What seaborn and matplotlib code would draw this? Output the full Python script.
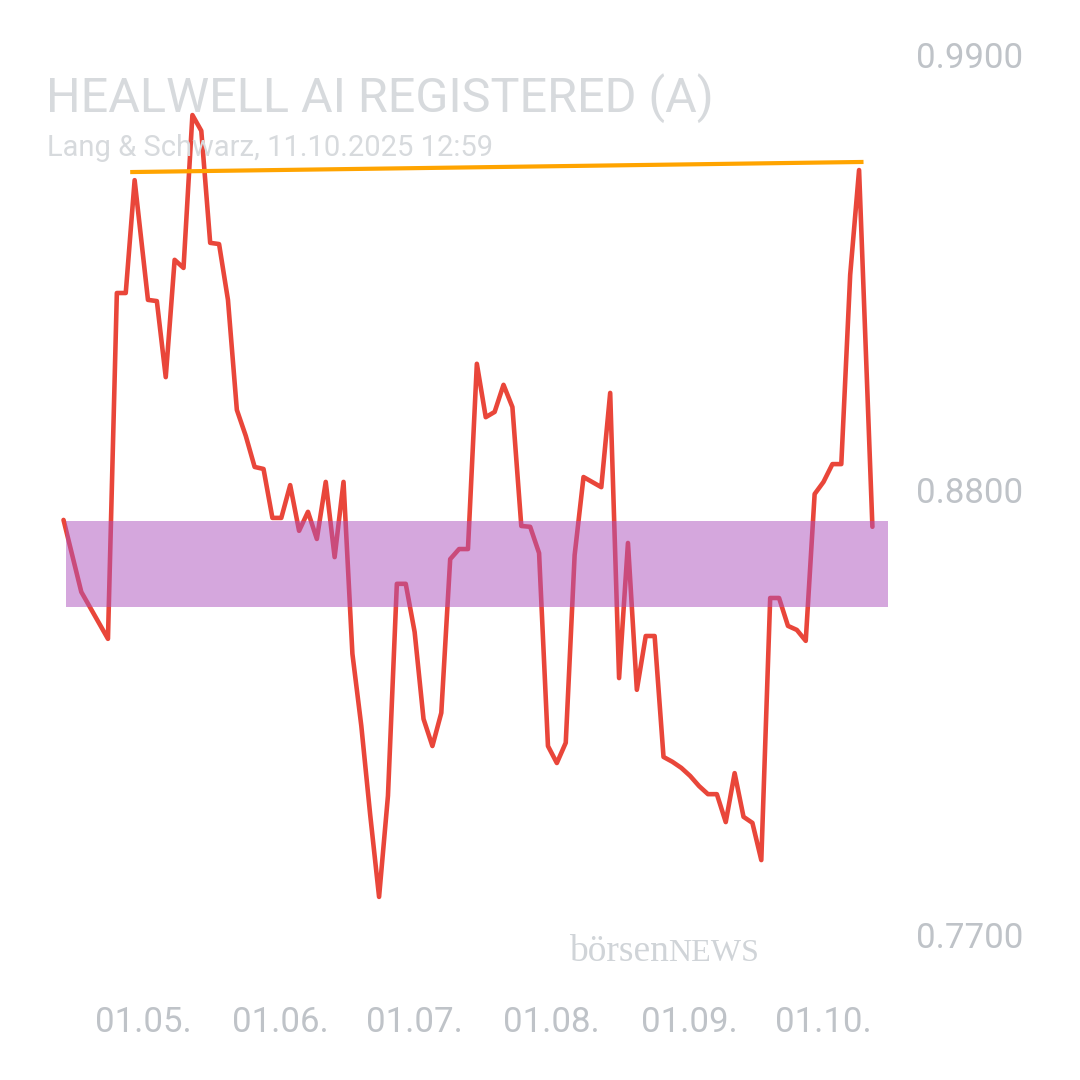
import pandas as pd
import matplotlib
matplotlib.use("Agg")
import matplotlib.pyplot as plt
import matplotlib.dates as mdates
import matplotlib.transforms as mtransforms
import seaborn as sns

# ----------------------------------------------------------------
# SETUP
# ----------------------------------------------------------------
sns.set_style("white")
plt.rcParams['font.family'] = ['Roboto', 'DejaVu Sans']

LINE_COLOR = "#e9463a"
TREND_COLOR = "#ffa400"
ZONE_COLOR = "#ad51bd"
TEXT_LIGHT = "#d7dadd"
TICK_COLOR = "#bfc3c8"

TITLE = "HEALWELL AI REGISTERED (A)"
SUBTITLE = "Lang & Schwarz, 11.10.2025 12:59"

# ----------------------------------------------------------------
# DATA
# ----------------------------------------------------------------
dates = [
    "2025-04-12", "2025-04-16", "2025-04-22", "2025-04-24", "2025-04-26", "2025-04-28",
    "2025-05-01", "2025-05-03", "2025-05-05", "2025-05-07", "2025-05-09", "2025-05-11",
    "2025-05-13", "2025-05-15", "2025-05-17", "2025-05-19", "2025-05-21", "2025-05-23",
    "2025-05-25", "2025-05-27", "2025-05-29", "2025-05-31",
    "2025-06-02", "2025-06-04", "2025-06-06", "2025-06-08", "2025-06-10", "2025-06-12",
    "2025-06-14", "2025-06-16", "2025-06-18", "2025-06-20", "2025-06-22", "2025-06-24",
    "2025-06-26", "2025-06-28", "2025-06-30",
    "2025-07-02", "2025-07-04", "2025-07-06", "2025-07-08", "2025-07-10", "2025-07-12",
    "2025-07-14", "2025-07-16", "2025-07-18", "2025-07-20", "2025-07-22", "2025-07-24",
    "2025-07-26", "2025-07-28", "2025-07-30",
    "2025-08-01", "2025-08-03", "2025-08-05", "2025-08-07", "2025-08-11", "2025-08-13",
    "2025-08-15", "2025-08-17", "2025-08-19", "2025-08-21", "2025-08-23", "2025-08-25",
    "2025-08-27", "2025-08-29", "2025-08-31",
    "2025-09-02", "2025-09-04", "2025-09-06", "2025-09-08", "2025-09-10", "2025-09-12",
    "2025-09-14", "2025-09-16", "2025-09-18", "2025-09-20", "2025-09-22", "2025-09-24",
    "2025-09-26", "2025-09-28", "2025-09-30",
    "2025-10-02", "2025-10-04", "2025-10-06", "2025-10-08", "2025-10-11",
]
prices = [
    0.8726, 0.8548, 0.8432, 0.9287, 0.9287, 0.9566,
    0.9270, 0.9267, 0.9079, 0.9369, 0.9349, 0.9727,
    0.9688, 0.9411, 0.9408, 0.9270, 0.8998, 0.8934,
    0.8857, 0.8852, 0.8731, 0.8731,
    0.8812, 0.8699, 0.8746, 0.8679, 0.8820, 0.8634,
    0.8820, 0.8395, 0.8217, 0.7997, 0.7794, 0.8044,
    0.8568, 0.8568, 0.8449,
    0.8234, 0.8167, 0.8249, 0.8629, 0.8654, 0.8654,
    0.9112, 0.8980, 0.8993, 0.9060, 0.9005, 0.8711,
    0.8709, 0.8644, 0.8167,
    0.8125, 0.8175, 0.8639, 0.8832, 0.8807, 0.9040,
    0.8335, 0.8669, 0.8306, 0.8439, 0.8439, 0.8140,
    0.8128, 0.8113, 0.8093,
    0.8068, 0.8048, 0.8048, 0.7979, 0.8100, 0.7992,
    0.7977, 0.7885, 0.8533, 0.8533, 0.8464, 0.8454,
    0.8427, 0.8790, 0.8820,
    0.8864, 0.8864, 0.9332, 0.9591, 0.8709,
]

# resistance (trend) line and support zone
trend_dates = ["2025-04-27", "2025-10-09"]
trend_prices = [0.9586, 0.9611]

zone_dates = ["2025-04-12 14:00", "2025-10-14 14:00"]
zone_low = 0.8511
zone_high = 0.8723

y_ticks = [0.77, 0.88, 0.99]
x_ticks = ["2025-05-01", "2025-06-01", "2025-07-01",
           "2025-08-01", "2025-09-01", "2025-10-01"]

df = pd.DataFrame({"date": pd.to_datetime(dates), "price": prices})
trend = pd.DataFrame({"date": pd.to_datetime(trend_dates), "price": trend_prices})

# ----------------------------------------------------------------
# PLOT
# ----------------------------------------------------------------
fig = plt.figure(figsize=(10.8, 10.8), dpi=100)
ax = fig.add_axes([60 / 1080, 120 / 1080, 830 / 1080, 920 / 1080])

sns.lineplot(data=df, x="date", y="price", ax=ax, color=LINE_COLOR,
             linewidth=3.3, zorder=2)
sns.lineplot(data=trend, x="date", y="price", ax=ax, color=TREND_COLOR,
             linewidth=3.0, zorder=2, solid_capstyle="butt")
ax.fill_between(pd.to_datetime(zone_dates), zone_low, zone_high,
                color=ZONE_COLOR, alpha=0.5, linewidth=0, zorder=3)

ax.set_xlim(pd.Timestamp("2025-04-11 05:00"), pd.Timestamp("2025-10-14 23:00"))
ax.set_ylim(0.7638, 0.99125)

for side in ax.spines.values():
    side.set_visible(False)
ax.set_xlabel("")
ax.set_ylabel("")

ax.yaxis.tick_right()
ax.set_yticks(y_ticks)
ax.set_yticklabels([f"{v:.4f}" for v in y_ticks])
ax.tick_params(axis="y", length=0, pad=19, labelsize=25, labelcolor=TICK_COLOR)

ax.set_xticks(pd.to_datetime(x_ticks))
ax.xaxis.set_major_formatter(mdates.DateFormatter("%d.%m."))
ax.tick_params(axis="x", length=0, pad=33, labelsize=25, labelcolor=TICK_COLOR)

# title block
fig.text(46 / 1080, 1 - 112 / 1080, TITLE, fontsize=35, color=TEXT_LIGHT,
         va="baseline", ha="left")
fig.text(47 / 1080, 1 - 156 / 1080, SUBTITLE, fontsize=21, color=TEXT_LIGHT,
         va="baseline", ha="left")

# watermark
fig.text(569 / 1080, 1 - 961 / 1080, "börsen", fontsize=27, color="#d0d4d8",
         family="Liberation Serif", va="baseline", ha="left")
fig.text(668 / 1080, 1 - 961 / 1080, "NEWS", fontsize=23, color="#d0d4d8",
         family="Liberation Serif", va="baseline", ha="left")

# small label nudges to match the original placement
fig.canvas.draw()
top_label = ax.get_yticklabels()[-1]
top_label.set_transform(top_label.get_transform() +
                        mtransforms.ScaledTranslation(0, -0.10, fig.dpi_scale_trans))
for lab in ax.get_xticklabels():
    lab.set_transform(lab.get_transform() +
                      mtransforms.ScaledTranslation(-0.05, 0, fig.dpi_scale_trans))

fig.savefig("out.png", dpi=100)
plt.close(fig)
